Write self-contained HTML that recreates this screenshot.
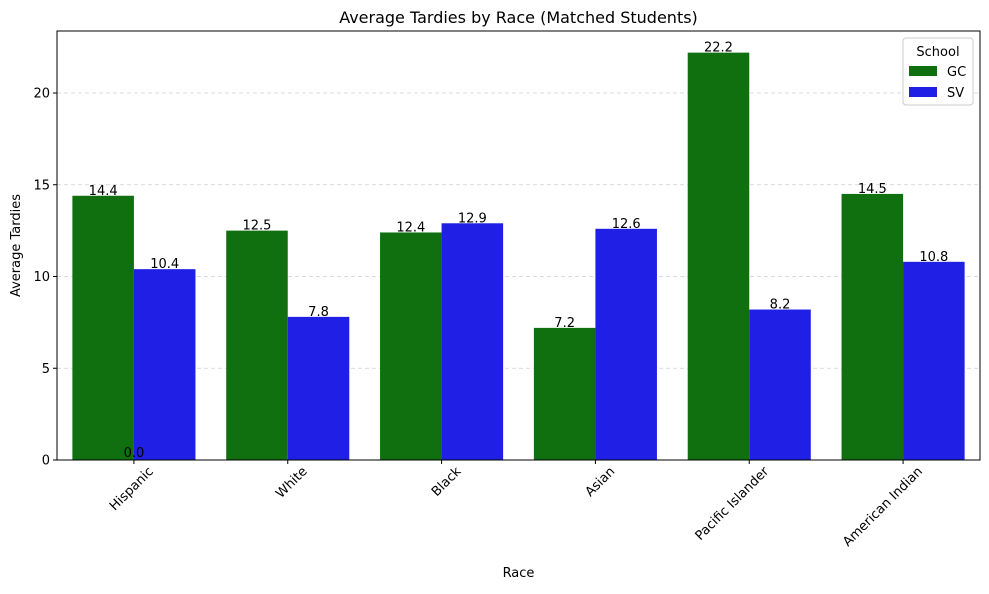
<!DOCTYPE html>
<html><head><meta charset="utf-8"><style>
body{margin:0;background:#fff;font-family:"Liberation Sans","DejaVu Sans",sans-serif;}
svg text{font-family:"DejaVu Sans","Liberation Sans",sans-serif;}
</style></head><body>
<svg id="c" width="989" height="589" xmlns="http://www.w3.org/2000/svg"></svg>
<script>
const categories=["Hispanic","White","Black","Asian","Pacific Islander","American Indian"];
const gcValues=[14.4,12.5,12.4,7.2,22.2,14.5];
const svValues=[10.4,7.8,12.9,12.6,8.2,10.8];
const yTicks=[0,5,10,15,20];
const svg=document.getElementById('c');
const NS="http://www.w3.org/2000/svg";
const L=57,R=980,T=31,B=460;
const yScale=v=>B-(v/20)*(B-93);
const band=(R-L)/categories.length;
const xCenter=i=>L+band*(i+0.5);
const bw=band*0.4;
function el(tag,attrs,txt){const e=document.createElementNS(NS,tag);for(const k in attrs)e.setAttribute(k,attrs[k]);if(txt!==undefined)e.textContent=txt;svg.appendChild(e);return e;}
yTicks.forEach(t=>{
 const y=yScale(t);
 if(t>0){const g=el('line',{x1:L,x2:R,y1:y,y2:y,stroke:'#b0b0b0','stroke-dasharray':'4,3','stroke-width':0.8,opacity:0.6});
 
 }
 const tk=el('line',{x1:L-4,x2:L,y1:y,y2:y,stroke:'#000'});
 
 
 const tl=el('text',{x:L-7,y:y+4.5,'text-anchor':'end','font-size':13},t);
 
 
});
function bars(vals,off,color,name){
 vals.forEach((v,i)=>{
  const x=xCenter(i)+off;
  const r=el('rect',{x:x,y:yScale(v),width:bw,height:B-yScale(v),fill:color});
  
  
  const t=el('text',{x:x+bw/2,y:yScale(v)-1,'text-anchor':'middle','font-size':13},v.toFixed(1));
  
  
 });
}
bars(gcValues,-bw,'#107010','gc');
bars(svValues,0,'#1f1fe6','sv');
const z=el('text',{x:xCenter(0),y:B-3,'text-anchor':'middle','font-size':13},'0.0');


categories.forEach((c,i)=>{
 const x=xCenter(i);
 const tk=el('line',{x1:x,x2:x,y1:B,y2:B+4,stroke:'#000'});
 
 
 const ax=x+20, ay=B+12;
 const t=el('text',{x:ax,y:ay,'text-anchor':'end','font-size':13,transform:`rotate(-45 ${ax} ${ay})`},c);
 
 
});
const f=el('rect',{x:L,y:T,width:R-L,height:B-T,fill:'none',stroke:'#000','stroke-width':1});


const ti=el('text',{x:(L+R)/2,y:23,'text-anchor':'middle','font-size':16},'Average Tardies by Race (Matched Students)');


const xt=el('text',{x:(L+R)/2,y:577,'text-anchor':'middle','font-size':13},'Race');


const yt=el('text',{x:20,y:(T+B)/2,'text-anchor':'middle','font-size':13,transform:`rotate(-90 20 ${(T+B)/2})`},'Average Tardies');


const lg=el('rect',{x:903,y:38,width:70,height:67,fill:'#fff',stroke:'#ccc',rx:3});


const lt=el('text',{x:938,y:56,'text-anchor':'middle','font-size':13},'School');


[['GC','#107010',66],['SV','#1f1fe6',87]].forEach(([n,c,y])=>{
 const p=el('rect',{x:909,y:y,width:28,height:10,fill:c});
 
 
 const t=el('text',{x:947,y:y+10,'font-size':13},n);
 
 
});
</script>
</body></html>
